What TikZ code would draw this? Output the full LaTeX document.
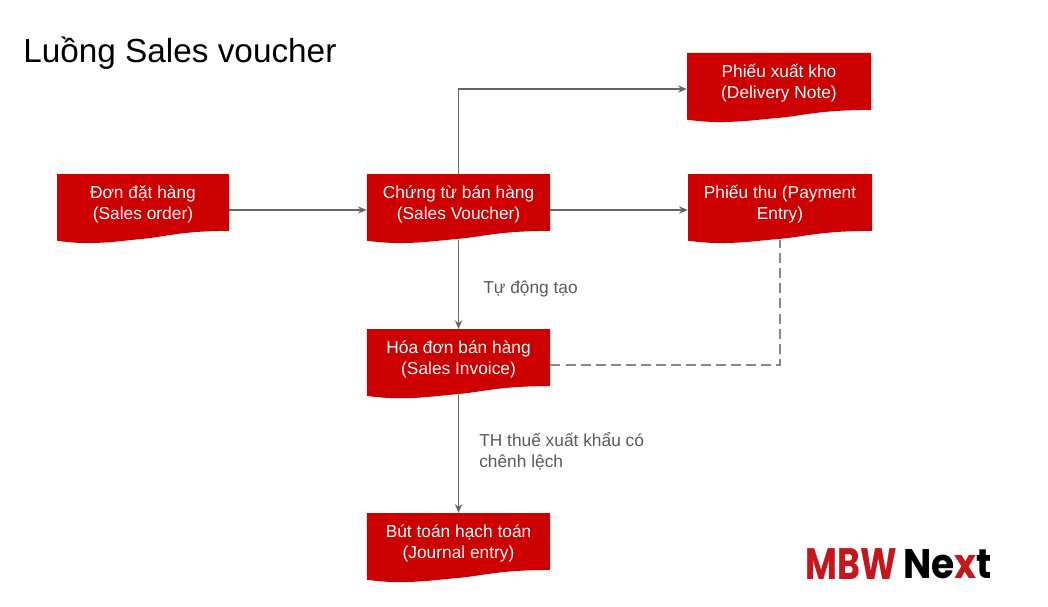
\documentclass[tikz,border=0pt]{standalone}
\usepackage{fontspec}
\setmainfont{Liberation Sans}
\newfontfamily\logofont[FakeStretch=0.79]{Poppins}
\newfontfamily\nextfont[FakeStretch=0.91]{Poppins}
\usetikzlibrary{arrows.meta,calc,positioning}
\definecolor{docred}{HTML}{CC0000}
\definecolor{linegray}{HTML}{666666}
\definecolor{dashgray}{HTML}{888888}
\definecolor{notegray}{HTML}{595959}
\definecolor{logored}{HTML}{C4161C}
\tikzset{
  docbox/.style={minimum width=#1, minimum height=54pt, inner sep=0pt, text=white, align=center, font=\fontsize{13}{15.8}\selectfont, text depth=11pt,
    path picture={\fill[docred] let \p1=(path picture bounding box.north west), \p2=(path picture bounding box.south east), \n1={\x2-\x1}, \n2={\y1-\y2} in
      (\p1) -- (\x2,\y1) -- (\x2,\y1-0.79*\n2)
      .. controls (\x1+0.72*\n1,\y1-0.79*\n2) and (\x1+0.62*\n1,\y1-0.875*\n2) .. (\x1+0.5*\n1,\y1-0.90*\n2)
      .. controls (\x1+0.36*\n1,\y1-0.93*\n2) and (\x1+0.2*\n1,\y1-1.0*\n2) .. (\x1,\y1-0.926*\n2) -- cycle;}},
  flowline/.style={-{Stealth[length=6.5pt,width=5.5pt]}, draw=linegray, line width=0.9pt},
  noteline/.style={draw=dashgray, line width=1.1pt, dash pattern=on 7.5pt off 3.8pt},
  notetext/.style={text=notegray, align=left, font=\fontsize{13}{15.8}\selectfont, inner sep=0pt}
}
\begin{document}
\begin{tikzpicture}[x=0.75pt,y=0.75pt]
\useasboundingbox (0,0) rectangle (1048,-606);
\node (title) at (23,-53) [anchor=west, inner sep=0pt, font=\fontsize{25}{28}\selectfont] {Luồng Sales voucher};

\node (sales_order) at (143,-210) [docbox=129pt] {Đơn đặt hàng\\(Sales order)};
\node (sales_voucher) at (sales_order.east) [docbox=137.5pt, right=103pt] {Chứng từ bán hàng\\(Sales Voucher)};
\node (delivery_note) at (779,-89) [docbox=138pt] {Phiếu xuất kho\\(Delivery Note)};
\node (payment_entry) at (780,-210) [docbox=138pt] {Phiếu thu (Payment\\Entry)};
\node (sales_invoice) at (sales_voucher.south) [docbox=137.5pt, below=62pt] {Hóa đơn bán hàng\\(Sales Invoice)};
\node (journal_entry) at (sales_invoice.south) [docbox=137.5pt, below=83.5pt] {Bút toán hạch toán\\(Journal entry)};

\coordinate (payment_bend) at (sales_invoice.east -| payment_entry.south);

\draw [flowline] (sales_order) -- (sales_voucher);
\draw [flowline] (sales_voucher) -- (payment_entry);
\draw [flowline] (sales_voucher.north) |- (delivery_note.west);
\draw [flowline, shorten <=-5pt] (sales_voucher.south) -- (sales_invoice.north);
\draw [flowline, shorten <=-5pt] (sales_invoice.south) -- (journal_entry.north);
\draw [noteline, shorten >=-5pt] (sales_invoice.east) -- (payment_bend) -- (payment_entry.south);

\node (auto_note) at (483,-289) [notetext, anchor=west] {Tự động tạo};
\node (export_note) at (479,-451) [notetext, anchor=west] {TH thuế xuất khẩu có\\chênh lệch};

\node (logo_mbw) at (897,-564) [anchor=east, inner sep=0pt, text=logored, font=\logofont\bfseries\fontsize{33}{34}\selectfont] {MBW};
\node (logo_next) at (logo_mbw.east) [anchor=west, xshift=4.5pt, inner sep=0pt, font=\nextfont\bfseries\fontsize{31}{34}\selectfont] {Ne\textcolor{logored}{x}t};
\end{tikzpicture}
\end{document}
